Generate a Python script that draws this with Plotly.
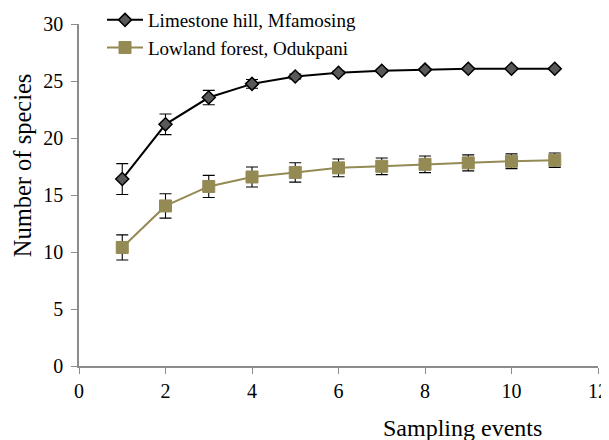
import plotly.graph_objects as go

events = [1, 2, 3, 4, 5, 6, 7, 8, 9, 10, 11]
limestone = [16.4, 21.2, 23.55, 24.75, 25.4, 25.72, 25.9, 26.0, 26.08, 26.08, 26.08]
limestone_err = [1.35, 0.9, 0.63, 0.38, 0.22, 0.15, 0.12, 0.1, 0.08, 0.08, 0.08]
lowland = [10.4, 14.04, 15.75, 16.58, 16.98, 17.38, 17.52, 17.69, 17.82, 17.96, 18.05]
lowland_err = [1.1, 1.07, 0.97, 0.88, 0.85, 0.78, 0.73, 0.73, 0.7, 0.65, 0.63]

names = ["Limestone hill, Mfamosing", "Lowland forest, Odukpani"]
x_ticks = [0, 2, 4, 6, 8, 10, 12]
y_ticks = [0, 5, 10, 15, 20, 25, 30]

FONT = "Liberation Serif, Times New Roman, serif"
OLIVE = "#948a54"
AXIS = "#8c8c8c"

# page body has an 8px margin: figure is placed at (8, 8) in the window
PLOT_H = 342.0

fig = go.Figure()
fig.add_trace(go.Scatter(
    x=events, y=limestone, name=names[0], mode="lines+markers",
    line=dict(color="black", width=2),
    marker=dict(symbol="diamond", size=10, color="#595959",
                line=dict(color="black", width=1.5)),
    error_y=dict(type="data", array=limestone_err, color="black",
                 thickness=1.1, width=6),
))
fig.add_trace(go.Scatter(
    x=events, y=lowland, name=names[1], mode="lines+markers",
    line=dict(color=OLIVE, width=2),
    marker=dict(symbol="square", size=12, color=OLIVE,
                line=dict(color=OLIVE, width=1)),
    error_y=dict(type="data", array=lowland_err, color="black",
                 thickness=1.1, width=6),
))

fig.update_layout(
    width=601, height=432,
    margin=dict(l=71, r=11, t=15.7, b=74.3, autoexpand=False),
    paper_bgcolor="white", plot_bgcolor="white",
    font=dict(family=FONT, size=20, color="black"),
    showlegend=True,
    legend=dict(x=(102 - 79) / 519, y=1 + 23 / PLOT_H, xanchor="left", yanchor="top",
                bgcolor="rgba(0,0,0,0)", font=dict(size=19, family=FONT),
                tracegroupgap=0, itemwidth=36),
    xaxis=dict(range=[0, 12], tickvals=x_ticks, ticks="outside", ticklen=6,
               tickcolor=AXIS, showline=True, linecolor=AXIS, linewidth=1.5,
               showgrid=False, zeroline=False, automargin=False,
               tickfont=dict(size=20, family=FONT)),
    yaxis=dict(range=[0, 30], tickvals=y_ticks, ticks="outside", ticklen=6,
               tickcolor=AXIS, showline=True, linecolor=AXIS, linewidth=1.5,
               showgrid=False, zeroline=False, automargin=False,
               ticklabelstandoff=4,
               tickfont=dict(size=20, family=FONT)),
    annotations=[
        dict(text="Sampling events", xref="paper", yref="paper",
             x=(462 - 79) / 519, y=-(428 - 365.7) / PLOT_H, xanchor="center",
             yanchor="middle", showarrow=False,
             font=dict(size=24, family=FONT)),
        dict(text="Number of species", xref="paper", yref="paper",
             x=-(79 - 22) / 519, y=(365.7 - 165) / PLOT_H, xanchor="center",
             yanchor="middle", textangle=-90, showarrow=False,
             font=dict(size=24.5, family=FONT)),
    ],
)

fig.write_html("out.html")
